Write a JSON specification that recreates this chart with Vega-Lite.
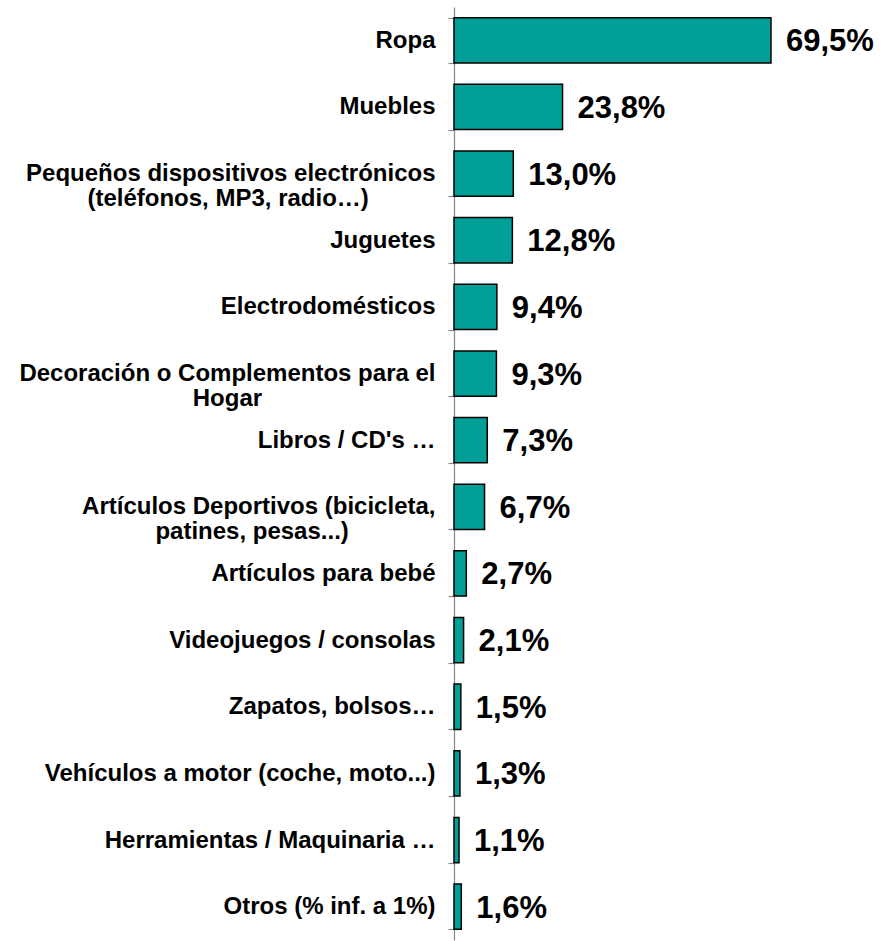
{
  "$schema": "https://vega.github.io/schema/vega-lite/v6.json",
  "autosize": "none",
  "width": 441,
  "height": 933,
  "padding": {"left": 454, "top": 7, "right": 0, "bottom": 1},
  "background": "white",
  "config": {"view": {"stroke": null}, "font": "Liberation Sans"},
  "data": {"values": [
    {"cat": "Ropa", "v": 69.5, "lbl": "69,5%"},
    {"cat": "Muebles", "v": 23.8, "lbl": "23,8%"},
    {"cat": "Pequeños dispositivos electrónicos|(teléfonos, MP3, radio…)\u00a0\u00a0\u00a0\u00a0\u00a0\u00a0\u00a0\u00a0\u00a0\u00a0\u200b", "v": 13.0, "lbl": "13,0%"},
    {"cat": "Juguetes", "v": 12.8, "lbl": "12,8%"},
    {"cat": "Electrodomésticos", "v": 9.4, "lbl": "9,4%"},
    {"cat": "Decoración o Complementos para el|Hogar\u00a0\u00a0\u00a0\u00a0\u00a0\u00a0\u00a0\u00a0\u00a0\u00a0\u00a0\u00a0\u00a0\u00a0\u00a0\u00a0\u00a0\u00a0\u00a0\u00a0\u00a0\u00a0\u00a0\u00a0\u00a0\u00a0\u200b", "v": 9.3, "lbl": "9,3%"},
    {"cat": "Libros / CD's …", "v": 7.3, "lbl": "7,3%"},
    {"cat": "Artículos Deportivos (bicicleta,|patines, pesas...)\u00a0\u00a0\u00a0\u00a0\u00a0\u00a0\u00a0\u00a0\u00a0\u00a0\u00a0\u00a0\u00a0\u200b", "v": 6.7, "lbl": "6,7%"},
    {"cat": "Artículos para bebé", "v": 2.7, "lbl": "2,7%"},
    {"cat": "Videojuegos / consolas", "v": 2.1, "lbl": "2,1%"},
    {"cat": "Zapatos, bolsos…", "v": 1.5, "lbl": "1,5%"},
    {"cat": "Vehículos a motor (coche, moto...)", "v": 1.3, "lbl": "1,3%"},
    {"cat": "Herramientas / Maquinaria …", "v": 1.1, "lbl": "1,1%"},
    {"cat": "Otros (% inf. a 1%)", "v": 1.6, "lbl": "1,6%"}
  ]},
  "encoding": {
    "y": {
      "field": "cat", "type": "nominal", "sort": null,
      "scale": {"paddingInner": 0.32, "paddingOuter": 0.16},
      "axis": {
        "title": null,
        "domainColor": "#888888", "domainWidth": 1.2,
        "tickColor": "#888888", "tickSize": 6, "tickWidth": 1.2, "tickBand": "extent",
        "labelFont": "Liberation Sans", "labelFontWeight": "bold", "labelFontSize": 24,
        "labelColor": "black", "labelPadding": 13, "labelLimit": 500, "labelLineHeight": 25,
        "labelAlign": "right",
        "labelExpr": "isValid(datum.value) ? split(datum.value, '|') : ''"
      }
    },
    "x": {"field": "v", "type": "quantitative", "scale": {"domain": [0, 96.7]}, "axis": null}
  },
  "layer": [
    {"mark": {"type": "bar", "color": "#00A099", "stroke": "black", "strokeWidth": 1.5}},
    {"mark": {"type": "text", "align": "left", "baseline": "middle", "dx": 15, "dy": 2, "font": "Liberation Sans", "fontWeight": "bold", "fontSize": 31, "color": "black"},
     "encoding": {"text": {"field": "lbl"}}}
  ]
}
